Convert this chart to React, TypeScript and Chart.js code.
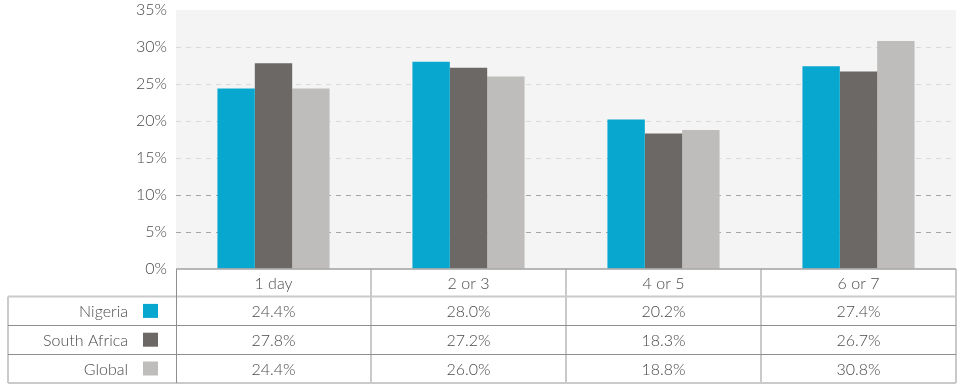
import React, { useEffect, useRef } from "react";
import { Chart, registerables } from "chart.js";

Chart.register(...registerables);

const categories = ["1 day", "2 or 3", "4 or 5", "6 or 7"];
const seriesNames = ["Nigeria", "South Africa", "Global"];
const nigeria = [24.4, 28.0, 20.2, 27.4];
const southAfrica = [27.8, 27.2, 18.3, 26.7];
const globalVals = [24.4, 26.0, 18.8, 30.8];
const seriesColors = ["#08a7cf", "#6c6866", "#bebdbb"];
const yTicks = [0, 5, 10, 15, 20, 25, 30, 35];

const FONT = "Lato, 'Open Sans', sans-serif";
const WEIGHT = "300";
const TEXT = "#4a4a4a";

const tablePlugin = {
  id: "tablePlugin",
  beforeDraw(chart: any) {
    const { ctx, chartArea } = chart;
    ctx.save();
    ctx.fillStyle = "#f4f4f4";
    ctx.fillRect(chartArea.left, chartArea.top, chartArea.right - chartArea.left, chartArea.bottom - chartArea.top);
    ctx.restore();
  },
  afterDraw(chart: any) {
    const { ctx, chartArea } = chart;
    const n = categories.length;
    const colW = (chartArea.right - chartArea.left) / n;
    const top = chartArea.bottom;
    const headerH = 27.5;
    const rowH = 28.8;
    const tableLeft = 8;
    const rowsTop = top + headerH;
    const bottom = rowsTop + rowH * 3;
    ctx.save();

    ctx.strokeStyle = "#cacaca";
    ctx.lineWidth = 2;
    ctx.beginPath();
    ctx.moveTo(tableLeft, rowsTop);
    ctx.lineTo(chartArea.right, rowsTop);
    ctx.moveTo(tableLeft, bottom);
    ctx.lineTo(chartArea.right, bottom);
    ctx.moveTo(tableLeft, rowsTop);
    ctx.lineTo(tableLeft, bottom);
    for (let i = 1; i <= n; i++) {
      const x = chartArea.left + colW * i;
      ctx.moveTo(x, top);
      ctx.lineTo(x, bottom);
    }
    ctx.stroke();

    ctx.strokeStyle = "#8e8e8e";
    ctx.lineWidth = 1;
    ctx.beginPath();
    for (let r = 1; r < 3; r++) {
      const y = Math.round(rowsTop + rowH * r) + 0.5;
      ctx.moveTo(tableLeft, y);
      ctx.lineTo(chartArea.right, y);
    }
    ctx.moveTo(Math.round(chartArea.left) + 0.5, top);
    ctx.lineTo(Math.round(chartArea.left) + 0.5, bottom);
    ctx.stroke();

    ctx.strokeStyle = "#a0a0a0";
    ctx.lineWidth = 1.5;
    ctx.beginPath();
    ctx.moveTo(chartArea.left, top);
    ctx.lineTo(chartArea.right, top);
    ctx.stroke();

    ctx.font = `${WEIGHT} 16px ${FONT}`;
    ctx.fillStyle = TEXT;
    ctx.textBaseline = "middle";
    ctx.textAlign = "center";
    const data = [nigeria, southAfrica, globalVals];
    for (let i = 0; i < n; i++) {
      const cx = chartArea.left + colW * (i + 0.5);
      ctx.fillText(categories[i], cx, top + headerH / 2 + 1);
      for (let r = 0; r < 3; r++) {
        ctx.fillText(data[r][i].toFixed(1) + "%", cx, rowsTop + rowH * (r + 0.5) + 1);
      }
    }
    const keyRight = chartArea.left - 18;
    for (let r = 0; r < 3; r++) {
      const cy = rowsTop + rowH * (r + 0.5);
      ctx.fillStyle = seriesColors[r];
      ctx.fillRect(keyRight - 15, cy - 7, 15, 14);
      ctx.fillStyle = TEXT;
      ctx.textAlign = "right";
      ctx.fillText(seriesNames[r], keyRight - 30, cy + 1);
    }
    ctx.restore();
  },
};

export default function App() {
  const ref = useRef<HTMLCanvasElement>(null);
  useEffect(() => {
    document.body.style.margin = "0";
    const canvas = ref.current!;
    const chart = new Chart(canvas, {
      type: "bar",
      data: {
        labels: categories,
        datasets: [
          { label: seriesNames[0], data: nigeria, backgroundColor: seriesColors[0] },
          { label: seriesNames[1], data: southAfrica, backgroundColor: seriesColors[1] },
          { label: seriesNames[2], data: globalVals, backgroundColor: seriesColors[2] },
        ],
      },
      options: {
        responsive: false,
        animation: false,
        devicePixelRatio: 1,
        layout: { padding: { left: 0, right: 5, top: 10, bottom: 123 } },
        datasets: { bar: { categoryPercentage: 0.575, barPercentage: 1, borderWidth: 0 } },
        plugins: { legend: { display: false }, tooltip: { enabled: false } },
        scales: {
          x: {
            ticks: { display: false },
            grid: { display: false, drawTicks: false },
            border: { display: false },
          },
          y: {
            min: 0,
            max: 35,
            afterFit: (s: any) => { s.width = 176; s.paddingTop = 0; s.paddingBottom = 0; },
            afterBuildTicks: (s: any) => { s.ticks = yTicks.map((v) => ({ value: v })); },
            ticks: {
              stepSize: 5,
              padding: 9,
              color: TEXT,
              font: { family: FONT, size: 16, weight: WEIGHT as any, lineHeight: 0.5 },
              callback: (v: any) => v + "%",
            },
            grid: {
              drawTicks: false,
              lineWidth: 1,
              color: (c: any) => {
                const v = c.tick ? c.tick.value : 0;
                if (v === 0 || v === 35) return "rgba(0,0,0,0)";
                if (v === 5 || v === 10) return "#a6a6a6";
                return "#d9d9d9";
              },
            },
            border: { display: false, dash: [5, 5] },
          },
        },
      },
      plugins: [tablePlugin],
    });
    return () => chart.destroy();
  }, []);
  return (
    <div style={{ width: 961, height: 392 }}>
      <canvas ref={ref} width={961} height={392} style={{ display: "block", width: 961, height: 392 }} />
    </div>
  );
}
